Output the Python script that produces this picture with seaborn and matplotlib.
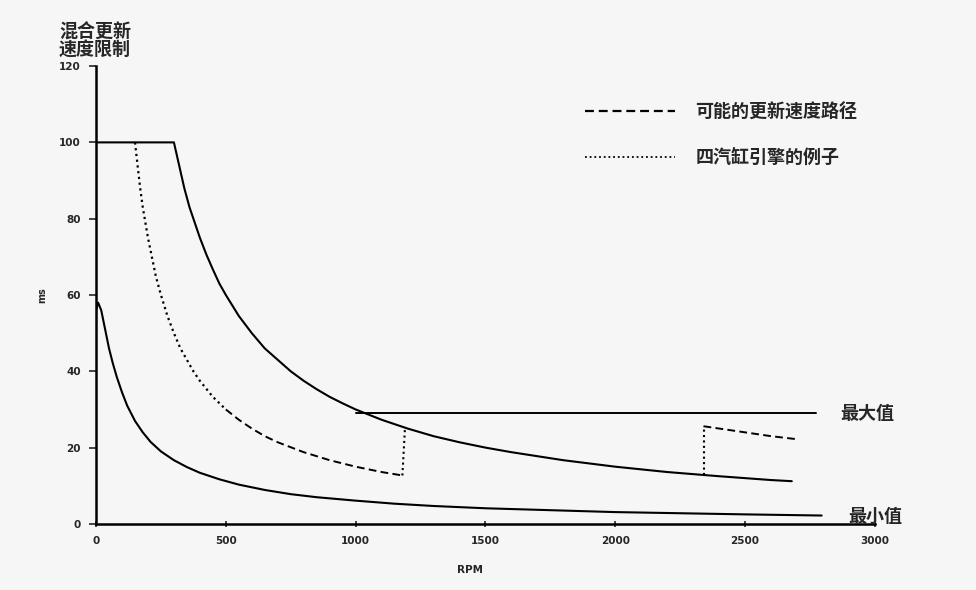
import seaborn as sns
import matplotlib.pyplot as plt
from matplotlib.lines import Line2D

# values (RPM vs ms)
min_rpm = [0, 8, 20, 35, 50, 65, 80, 100, 120, 150, 180, 210, 250, 300, 350, 400, 475, 550,
           650, 750, 850, 1000, 1150, 1300, 1500, 1750, 2000, 2250, 2500, 2795]
min_ms = [56, 58, 56, 51, 46, 42, 38.5, 34.5, 31, 27, 24, 21.5, 19, 16.7, 14.9, 13.4, 11.7, 10.3,
          8.9, 7.8, 7.0, 6.1, 5.3, 4.7, 4.1, 3.6, 3.1, 2.8, 2.5, 2.2]

max_rpm = [0, 300, 320, 340, 360, 380, 400, 425, 450, 475, 500, 550, 600, 650, 700, 750, 800,
           850, 900, 950, 1000, 1100, 1200, 1300, 1400, 1500, 1600, 1800, 2000, 2200, 2400, 2600, 2680]
max_ms = [100, 100, 94, 88, 83, 79, 75, 70.6, 66.7, 63, 60, 54.5, 50, 46, 43, 40, 37.5,
          35.3, 33.3, 31.6, 30, 27.3, 25, 23, 21.4, 20, 18.8, 16.7, 15, 13.6, 12.5, 11.5, 11.2]

cap_rpm = [1000, 2775]
cap_ms = [29, 29]

# four-cylinder example path
ex_dot_rpm = [150, 160, 170, 180, 190, 200, 215, 230, 250, 275, 300, 325, 350, 375, 400, 450, 500]
ex_dot_ms = [100, 94, 88, 83, 79, 75, 70, 65, 60, 54.5, 50, 46, 43, 40, 37.5, 33.3, 30]
ex_dash_rpm = [500, 550, 600, 650, 700, 800, 900, 1000, 1100, 1180]
ex_dash_ms = [30, 27.3, 25, 23, 21.4, 18.8, 16.7, 15, 13.6, 12.7]
jump1_rpm = [1180, 1190]
jump1_ms = [12.7, 25.2]
jump2_rpm = [2340, 2340]
jump2_ms = [12.8, 25.6]
tail_rpm = [2340, 2400, 2500, 2600, 2700]
tail_ms = [25.6, 25, 24, 23, 22.2]

x_ticks = [0, 500, 1000, 1500, 2000, 2500, 3000]
y_ticks = [0, 20, 40, 60, 80, 100, 120]

sns.set_style("ticks")
plt.rcParams['font.family'] = ['Noto Sans CJK SC', 'DejaVu Sans']

bg = "#f6f6f6"
fig = plt.figure(figsize=(9.76, 5.9), dpi=100, facecolor=bg)
ax = fig.add_axes([0.0984, 0.112, 0.798, 0.776], facecolor=bg)

dash = (0, (4, 2.2))
dot = (0, (1, 1.6))
kw = dict(ax=ax, color="black", estimator=None, sort=False, legend=False)

sns.lineplot(x=min_rpm, y=min_ms, linewidth=1.5, **kw)
sns.lineplot(x=max_rpm, y=max_ms, linewidth=1.5, **kw)
sns.lineplot(x=cap_rpm, y=cap_ms, linewidth=1.4, **kw)
sns.lineplot(x=ex_dot_rpm, y=ex_dot_ms, linewidth=1.6, linestyle=dot, **kw)
sns.lineplot(x=ex_dash_rpm, y=ex_dash_ms, linewidth=1.4, linestyle=dash, **kw)
sns.lineplot(x=jump1_rpm, y=jump1_ms, linewidth=1.5, linestyle=dot, **kw)
sns.lineplot(x=jump2_rpm, y=jump2_ms, linewidth=1.5, linestyle=dot, **kw)
sns.lineplot(x=tail_rpm, y=tail_ms, linewidth=1.4, linestyle=dash, **kw)

ax.set_xlim(0, 3000)
ax.set_ylim(0, 120)
ax.set_xticks(x_ticks)
ax.set_yticks(y_ticks)
ax.set_xticklabels([str(v) for v in x_ticks], fontsize=7.5, fontweight="bold", family="DejaVu Sans")
ax.set_yticklabels([str(v) for v in y_ticks], fontsize=7.5, fontweight="bold", family="DejaVu Sans")
ax.tick_params(axis="x", direction="inout", length=5, width=1.2, pad=6)
ax.tick_params(axis="y", direction="out", length=5, width=1.2, pad=6)
sns.despine(ax=ax)
for s in ["left", "bottom"]:
    ax.spines[s].set_linewidth(1.8)
    ax.spines[s].set_color("black")

ax.set_xlabel("RPM", fontsize=7.5, fontweight="bold", family="DejaVu Sans")
ax.xaxis.set_label_coords(0.48, -0.09)
ax.set_ylabel("ms", fontsize=7, fontweight="bold", family="DejaVu Sans")
ax.yaxis.set_label_coords(-0.063, 0.5)

# title block top-left
fig.text(59 / 976, 1 - 23 / 590, "混合更新\n速度限制", fontsize=13, fontweight="bold",
         ha="left", va="top", linespacing=0.92)

# end labels
ax.text(2865, 29, "最大值", fontsize=13, fontweight="bold", va="center", ha="left")
ax.text(2896, 2, "最小值", fontsize=13, fontweight="bold", va="center", ha="left")

handles = [Line2D([], [], color="black", linewidth=1.6, linestyle=dash),
           Line2D([], [], color="black", linewidth=1.3, linestyle=dot)]
leg = ax.legend(handles, ["可能的更新速度路径", "四汽缸引擎的例子"], loc="upper left",
                bbox_to_anchor=(0.628, 0.92), borderaxespad=0, borderpad=0,
                frameon=False, handlelength=5.0, handletextpad=1.1, labelspacing=1.45,
                prop={"size": 13, "weight": "bold"})

fig.savefig("out.png", dpi=100, facecolor=bg)
